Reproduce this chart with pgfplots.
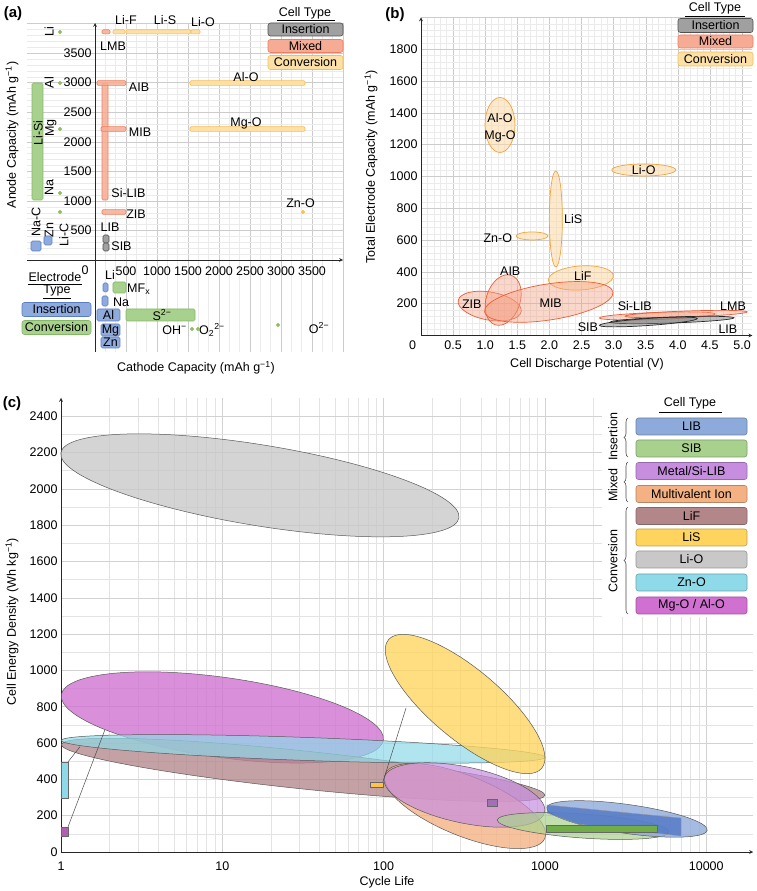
\documentclass[border=0pt]{standalone}
\usepackage{pgfplots}
\pgfplotsset{compat=1.18}
\usepackage{fontspec}
\setmainfont{Liberation Sans}
\usetikzlibrary{decorations.pathreplacing}
% panel (a)/(b) colours
\definecolor{insF}{HTML}{A0A0A0}\definecolor{insD}{HTML}{505050}
\definecolor{mixF}{HTML}{F6AC94}\definecolor{mixD}{HTML}{EE7E5E}
\definecolor{convF}{HTML}{FDE0A6}\definecolor{convD}{HTML}{F5BD58}
\definecolor{bluF}{HTML}{8FAADC}\definecolor{bluD}{HTML}{5A7EC4}
\definecolor{grnF}{HTML}{A9D18E}\definecolor{grnD}{HTML}{82B865}
\definecolor{dotG}{HTML}{8CC063}\definecolor{dotY}{HTML}{F5C15A}
\definecolor{bMixF}{HTML}{F4A084}\definecolor{bMixD}{HTML}{EE5B35}
\definecolor{bConvF}{HTML}{FCD8A4}\definecolor{bConvD}{HTML}{F5A23A}
\definecolor{bInsF}{HTML}{7F7F7F}\definecolor{bInsD}{HTML}{262626}
% panel (c) colours
\definecolor{LIBc}{HTML}{8EAADB}\definecolor{SIBc}{HTML}{A9D18E}
\definecolor{MSc}{HTML}{C78EE0}\definecolor{MVc}{HTML}{F4B183}
\definecolor{LiFc}{HTML}{B3868A}\definecolor{LiSc}{HTML}{FFD45E}
\definecolor{LiOc}{HTML}{C8C8C8}\definecolor{ZnOc}{HTML}{8EDAE8}
\definecolor{MgOc}{HTML}{D070D0}\definecolor{LIBd}{HTML}{4A72C4}
\definecolor{SIBd}{HTML}{70AD47}

\newcommand{\rbar}[5]{\addplot[#1] coordinates {(#2,#4) (#3,#4) (#3,#5) (#2,#5)} -- cycle;}

\pgfplotsset{
  every axis/.append style={
    scale only axis, anchor=south west,
    /pgf/number format/assume math mode=true,
    /pgf/number format/1000 sep={},
    tick label style={font=\fontsize{12.5}{15}\selectfont},
    major tick length=0pt, minor tick length=0pt,
    axis line style={black!85, line width=0.7pt},
  },
  gridonly/.style={
    axis line style={draw=none}, xticklabels={}, yticklabels={},
    major grid style={gray!40, line width=0.4pt},
    minor grid style={gray!16, line width=0.4pt},
  },
}
\tikzset{
  mix/.style={fill=mixF, draw=mixD, line width=0.6pt, rounded corners=1.2pt, fill opacity=0.85},
  conv/.style={fill=convF, draw=convD, line width=0.6pt, rounded corners=1.2pt},
  ins/.style={fill=insF, draw=insD, line width=0.6pt, rounded corners=1.5pt},
  blu/.style={fill=bluF, draw=bluD, line width=0.6pt, rounded corners=1.5pt},
  grn/.style={fill=grnF, draw=grnD, line width=0.6pt, rounded corners=1.5pt},
  lab/.style={inner sep=0pt},
  bmix/.style={fill=bMixF, fill opacity=0.42, draw=bMixD, line width=0.7pt},
  bconv/.style={fill=bConvF, fill opacity=0.55, draw=bConvD, line width=0.7pt},
  bins/.style={fill=bInsF, fill opacity=0.5, draw=bInsD, line width=0.7pt},
  cE/.style={draw=black!65, line width=0.5pt, fill opacity=0.78},
  lbox/.style={rounded corners=2.5pt, inner sep=0pt, line width=0.6pt},
}

\begin{document}
\begin{tikzpicture}[x=1pt,y=1pt,font=\fontsize{12.5}{15}\selectfont]
\useasboundingbox (0,0) rectangle (756,891);

%================ PANEL (a) ================
% grid: upper right
\begin{axis}[gridonly, at={(95pt,631pt)}, width=248pt, height=237pt,
  xmin=0, xmax=4000, ymin=0, ymax=4010,
  xtick={0,500,...,4000}, ytick={0,500,...,4000},
  minor x tick num=2, minor y tick num=4, grid=both]
\end{axis}
% grid: upper left (horizontal only)
\begin{axis}[gridonly, at={(27pt,631pt)}, width=68pt, height=237pt,
  xmin=-1097, xmax=0, ymin=0, ymax=4010,
  xtick=\empty, ytick={0,500,...,4000}, minor y tick num=4,
  ymajorgrids, yminorgrids]
\end{axis}
% grid: lower right (vertical only)
\begin{axis}[gridonly, at={(95pt,539pt)}, width=248pt, height=92pt,
  xmin=0, xmax=4000, ymin=-1557, ymax=0,
  ytick=\empty, xtick={0,500,...,4000}, minor x tick num=2,
  xmajorgrids, xminorgrids]
\end{axis}

\begin{axis}[at={(27pt,539pt)}, width=316pt, height=329pt,
  xmin=-1097, xmax=4000, ymin=-1557, ymax=4010,
  axis lines=middle, clip=false,
  xtick={500,1000,...,3500}, ytick={500,1000,...,3500},
  xticklabel style={yshift=-3pt}]
% mixed cells
\rbar{mix}{113}{210}{1015}{2995}
\rbar{mix}{113}{242}{3825}{3895}
\rbar{mix}{32}{500}{2955}{3035}
\rbar{mix}{97}{500}{2176}{2256}
\rbar{mix}{113}{500}{772}{852}
% conversion cells
\rbar{conv}{290}{484}{3825}{3895}
\rbar{conv}{500}{1548}{3825}{3895}
\rbar{conv}{1548}{1694}{3825}{3895}
\rbar{conv}{1532}{3387}{2955}{3035}
\rbar{conv}{1532}{3387}{2176}{2256}
% insertion cells
\rbar{ins}{129}{226}{288}{423}
\rbar{ins}{129}{226}{152}{288}
% anode electrodes
\rbar{grn}{-1016}{-839}{1015}{2995}
\rbar{blu}{-1032}{-871}{152}{321}
\rbar{blu}{-823}{-694}{254}{406}
% cathode electrodes
\rbar{blu}{129}{210}{-541}{-389}
\rbar{grn}{290}{500}{-558}{-372}
\rbar{blu}{113}{210}{-778}{-609}
\rbar{blu}{32}{403}{-1032}{-829}
\rbar{grn}{500}{1613}{-1032}{-829}
\rbar{blu}{97}{403}{-1286}{-1083}
\rbar{blu}{97}{403}{-1489}{-1303}
\addplot[only marks, mark=*, mark size=1.9pt, color=dotG] coordinates {
 (-565,3858) (-565,2995) (-565,2217) (-565,1134) (-565,812)
 (1565,-1168) (1661,-1168) (2952,-1100)};
\addplot[only marks, mark=*, mark size=1.9pt, color=dotY] coordinates {(3355,812)};
% labels
\node[lab] at (axis cs:500,4061) {Li-F};
\node[lab] at (axis cs:1129,4061) {Li-S};
\node[lab] at (axis cs:1742,4019) {Li-O};
\node[lab,anchor=west] at (axis cs:81,3621) {LMB};
\node[lab] at (axis cs:710,2927) {AIB};
\node[lab] at (axis cs:726,2166) {MIB};
\node[lab] at (axis cs:540,1134) {Si-LIB};
\node[lab] at (axis cs:661,778) {ZIB};
\node[lab] at (axis cs:242,558) {LIB};
\node[lab] at (axis cs:427,237) {SIB};
\node[lab] at (axis cs:2435,3096) {Al-O};
\node[lab] at (axis cs:2435,2318) {Mg-O};
\node[lab] at (axis cs:3315,964) {Zn-O};
\node[lab,rotate=90] at (axis cs:-742,3858) {Li};
\node[lab,rotate=90] at (axis cs:-742,3003) {Al};
\node[lab,rotate=90] at (axis cs:-710,2234) {Mg};
\node[lab,rotate=90] at (axis cs:-919,2149) {Li-Si};
\node[lab,rotate=90] at (axis cs:-742,1218) {Na};
\node[lab,rotate=90] at (axis cs:-952,643) {Na-C};
\node[lab,rotate=90] at (axis cs:-742,508) {Zn};
\node[lab,rotate=90] at (axis cs:-500,423) {Li-C};
\node[lab] at (axis cs:242,-254) {Li};
\node[lab,anchor=west] at (axis cs:516,-491) {MF\textsubscript{x}};
\node[lab,anchor=west] at (axis cs:290,-711) {Na};
\node[lab] at (axis cs:218,-931) {Al};
\node[lab] at (axis cs:1081,-931) {S\textsuperscript{2−}};
\node[lab] at (axis cs:250,-1193) {Mg};
\node[lab] at (axis cs:250,-1396) {Zn};
\node[lab,anchor=east] at (axis cs:1484,-1184) {OH\textsuperscript{−}};
\node[lab,anchor=west] at (axis cs:1677,-1184) {O\textsubscript{2}\textsuperscript{2−}};
\node[lab] at (axis cs:3613,-1151) {O\textsuperscript{2−}};
\end{axis}
\node at (85,{891-270}) {0};
% electrode type legend
\node at (55,{891-277}) {Electrode};
\draw[line width=0.6pt] (28,{891-284}) -- (82,{891-284});
\node at (57,{891-291}) {Type};
\draw[line width=0.6pt] (43,{891-298}) -- (71,{891-298});
\node[lbox, fill=bluF, draw=bluD, minimum width=69pt, minimum height=14pt] at (56.5,{891-309.5}) {Insertion};
\node[lbox, fill=grnF, draw=grnD, minimum width=69pt, minimum height=14pt] at (56.5,{891-327.5}) {Conversion};
% cell type legend (a)
\node at (305,{891-13}) {Cell Type};
\draw[line width=0.6pt] (277,{891-20}) -- (335,{891-20});
\node[lbox, fill=insF, draw=insD, minimum width=75pt, minimum height=13pt] at (305.5,{891-29.5}) {Insertion};
\node[lbox, fill=mixF, draw=mixD, minimum width=75pt, minimum height=13pt] at (305.5,{891-46}) {Mixed};
\node[lbox, fill=convF, draw=convD, minimum width=75pt, minimum height=14pt] at (305.5,{891-62.5}) {Conversion};
\node[font=\bfseries\fontsize{15}{18}\selectfont] at (13,{891-14}) {(a)};
\node at (196,{891-368}) {Cathode Capacity (mAh g\textsuperscript{−1})};
\node[rotate=90] at (12,{891-135}) {Anode Capacity (mAh g\textsuperscript{−1})};

%================ PANEL (b) ================
\begin{axis}[at={(421pt,555.5pt)}, width=331.3pt, height=318pt,
  xmin=0, xmax=5.16, ymin=0, ymax=2000,
  axis lines=left, clip=false,
  xtick={0,0.5,...,5}, xticklabels={\llap{0\hspace{5pt}},0.5,1.0,1.5,2.0,2.5,3.0,3.5,4.0,4.5,5.0},
  ytick={0,200,...,2000}, yticklabels={,200,400,600,800,1000,1200,1400,1600,1800,},
  minor x tick num=4, minor y tick num=4, grid=both,
  major grid style={gray!40, line width=0.4pt},
  minor grid style={gray!16, line width=0.4pt},
  xticklabel style={yshift=-2pt}]
\draw[bconv] (axis cs:1.23,1324) ellipse [x radius=15pt, y radius=27.5pt];
\draw[bconv] (axis cs:3.47,1041) ellipse [x radius=32pt, y radius=6pt];
\draw[bconv] (axis cs:2.10,733) ellipse [x radius=6.5pt, y radius=48pt];
\draw[bconv] (axis cs:1.73,626) ellipse [x radius=16pt, y radius=4pt];
\draw[bconv] (axis cs:2.49,362) ellipse [x radius=32.5pt, y radius=12pt, rotate=4];
\draw[bmix] (axis cs:1.07,185) ellipse [x radius=32pt, y radius=14pt, rotate=-10];
\draw[bmix] (axis cs:1.28,223) ellipse [x radius=17pt, y radius=26pt, rotate=-18];
\draw[bmix] (axis cs:1.99,211) ellipse [x radius=65pt, y radius=18pt, rotate=8.8];
\draw[bmix] (axis cs:3.68,123) ellipse [x radius=58pt, y radius=3.5pt, rotate=2];
\draw[bmix] (axis cs:4.13,135) ellipse [x radius=61pt, y radius=3pt, rotate=2];
\draw[bins] (axis cs:3.91,97.5) ellipse [x radius=62pt, y radius=3pt, rotate=2];
\draw[bins] (axis cs:3.54,85) ellipse [x radius=49pt, y radius=3.5pt, rotate=4];
\node[lab] at (axis cs:1.23,1368) {Al-O};
\node[lab] at (axis cs:1.23,1255) {Mg-O};
\node[lab] at (axis cs:3.47,1041) {Li-O};
\node[lab] at (axis cs:2.37,733) {LiS};
\node[lab,anchor=east] at (axis cs:1.42,613) {Zn-O};
\node[lab] at (axis cs:2.52,374) {LiF};
\node[lab] at (axis cs:1.39,406) {AIB};
\node[lab] at (axis cs:0.79,198) {ZIB};
\node[lab] at (axis cs:2.02,204) {MIB};
\node[lab] at (axis cs:3.33,186) {Si-LIB};
\node[lab] at (axis cs:4.86,186) {LMB};
\node[lab] at (axis cs:2.60,53) {SIB};
\node[lab] at (axis cs:4.78,41) {LIB};
\end{axis}
\node at (715,{891-8}) {Cell Type};
\draw[line width=0.6pt] (685,{891-16}) -- (745,{891-16});
\node[lbox, fill=insF, draw=insD, minimum width=75pt, minimum height=14pt] at (715.5,{891-25.5}) {Insertion};
\node[lbox, fill=mixF, draw=mixD, minimum width=75pt, minimum height=13pt] at (715.5,{891-41.5}) {Mixed};
\node[lbox, fill=convF, draw=convD, minimum width=75pt, minimum height=14pt] at (715.5,{891-59}) {Conversion};
\node[font=\bfseries\fontsize{15}{18}\selectfont] at (395,{891-15}) {(b)};
\node at (587,{891-364}) {Cell Discharge Potential (V)};
\node[rotate=90] at (371,{891-167}) {Total Electrode Capacity (mAh g\textsuperscript{−1})};

%================ PANEL (c) ================
\begin{axis}[at={(61pt,39pt)}, width=692pt, height=454pt,
  xmode=log, xmin=1, xmax=19500, ymin=0, ymax=2500,
  axis lines=left, clip=false,
  xtick={1,10,100,1000,10000}, xticklabels={1,10,100,1000,10000},
  ytick={0,200,...,2400}, minor y tick num=1, grid=both,
  major grid style={gray!35, line width=0.5pt},
  minor grid style={gray!22, line width=0.4pt},
  xticklabel style={yshift=-6pt}]
\draw[cE, fill=LiOc] (axis cs:17.1,2019) ellipse [x radius=201.7pt, y radius=40.4pt, rotate=-9.3];
\draw[cE, fill=MgOc] (axis cs:10,741) ellipse [x radius=162.6pt, y radius=40pt, rotate=-8];
\draw[cE, fill=LiFc] (axis cs:31.7,452) ellipse [x radius=243pt, y radius=19pt, rotate=-6];
\draw[cE, fill=ZnOc, fill opacity=0.7] (axis cs:31.7,568) ellipse [x radius=242pt, y radius=11.5pt, rotate=-2];
\draw[cE, fill=LiSc] (axis cs:320,815) ellipse [x radius=100pt, y radius=35pt, rotate=-40];
\draw[cE, fill=MVc] (axis cs:320,253) ellipse [x radius=86pt, y radius=30pt, rotate=-22];
\draw[cE, fill=MSc, fill opacity=0.7] (axis cs:317,314) ellipse [x radius=82pt, y radius=28pt, rotate=-12];
\draw[cE, fill=SIBc, fill opacity=0.7] (axis cs:1722,143) ellipse [x radius=86pt, y radius=12pt, rotate=-4];
\draw[cE, fill=LIBc, fill opacity=0.8] (axis cs:3228,182) ellipse [x radius=81pt, y radius=14.5pt, rotate=-8];
\addplot[fill=LIBd, fill opacity=0.75, draw=black!40, line width=0.4pt] coordinates {(1030,259) (6980,187) (6980,88) (1600,154) (1030,215)} -- cycle;
\rbar{fill=SIBd, draw=black!60, line width=0.5pt}{1016}{4955}{110}{149}
\rbar{fill=LiSc!80!orange, draw=black!60, line width=0.5pt}{82.4}{99}{358}{386}
\rbar{fill=ZnOc, draw=black!60, line width=0.5pt}{1.01}{1.105}{298}{496}
\rbar{fill=MgOc!85!black, draw=black!60, line width=0.5pt}{1.01}{1.105}{88}{138}
\rbar{fill=MSc!80!black, draw=black!60, line width=0.5pt}{437}{505}{253}{292}
\addplot[black!70, line width=0.5pt] coordinates {(99,386) (137.7,793)};
\addplot[black!70, line width=0.5pt] coordinates {(1.105,496) (1.31,579)};
\addplot[black!70, line width=0.5pt] coordinates {(1.105,138) (1.87,672)};
\end{axis}
\fill[white] (602,{891-617}) rectangle (756,{891-394});
\node at (690,{891-403}) {Cell Type};
\draw[line width=0.6pt] (659,{891-412}) -- (722,{891-412});
\foreach \yy/\cc/\lbl in {426.5/LIBc/LIB, 448.5/SIBc/SIB, 471/MSc/{Metal/Si-LIB}, 494/MVc/{Multivalent Ion}, 516/LiFc/LiF, 537.5/LiSc/LiS, 559.5/LiOc/Li-O, 582.5/ZnOc/Zn-O, 605.5/MgOc/{Mg-O / Al-O}}{
  \node[lbox, fill=\cc, draw=\cc!75!black, minimum width=111pt, minimum height=17pt] at (691.5,{891-\yy}) {\lbl};
}
\draw[decorate, decoration={brace, amplitude=4pt}, black!70, line width=0.6pt] (628,{891-457}) -- (628,{891-418});
\draw[decorate, decoration={brace, amplitude=4pt}, black!70, line width=0.6pt] (628,{891-502}) -- (628,{891-462});
\draw[decorate, decoration={brace, amplitude=4pt}, black!70, line width=0.6pt] (628,{891-614}) -- (628,{891-507});
\node[rotate=90] at (613,{891-437}) {Insertion};
\node[rotate=90] at (613,{891-485}) {Mixed};
\node[rotate=90] at (613,{891-561}) {Conversion};
\node[font=\bfseries\fontsize{15}{18}\selectfont] at (12,{891-404}) {(c)};
\node at (387,{891-882}) {Cycle Life};
\node[rotate=90] at (12,{891-622}) {Cell Energy Density (Wh kg\textsuperscript{−1})};
\end{tikzpicture}
\end{document}
